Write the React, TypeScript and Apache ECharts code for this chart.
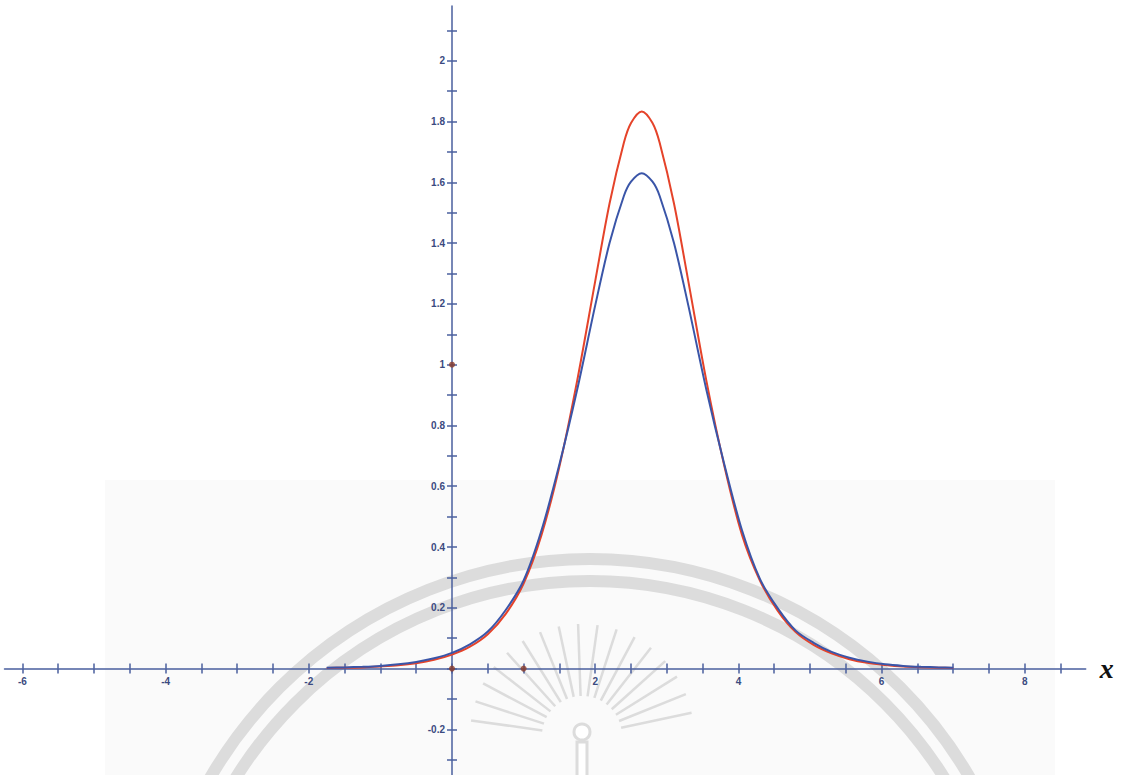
import React, { useEffect, useRef } from "react";
import * as echarts from "echarts";

// sampled x positions of the curves
const xs = [-1.75, -1.5, -1.25, -1, -0.75, -0.5, -0.25, 0, 0.25, 0.5, 0.75, 1, 1.25, 1.5, 1.75, 2, 2.2, 2.4, 2.5, 2.65, 2.8, 2.9, 3.1, 3.3, 3.55, 3.8, 4.05, 4.3, 4.55, 4.8, 5.05, 5.3, 5.55, 5.8, 6.05, 6.3, 6.55, 6.8, 7.0];
// red curve values
const redY = [0.002, 0.003, 0.004, 0.007, 0.011, 0.018, 0.029, 0.046, 0.072, 0.113, 0.18, 0.28, 0.44, 0.665, 0.95, 1.275, 1.53, 1.73, 1.795, 1.833, 1.795, 1.73, 1.53, 1.275, 0.95, 0.67, 0.44, 0.29, 0.19, 0.12, 0.078, 0.05, 0.031, 0.019, 0.012, 0.007, 0.0045, 0.003, 0.002];
// blue curve values
const blueY = [0.0025, 0.004, 0.006, 0.009, 0.014, 0.022, 0.034, 0.052, 0.08, 0.122, 0.193, 0.29, 0.455, 0.672, 0.92, 1.195, 1.4, 1.555, 1.602, 1.63, 1.602, 1.555, 1.4, 1.195, 0.92, 0.675, 0.455, 0.295, 0.198, 0.125, 0.085, 0.055, 0.036, 0.023, 0.014, 0.009, 0.006, 0.004, 0.0025];
// marked points on axes
const markedPoints = [[0, 0], [1, 0], [0, 1]];

// tick positions and labels
const xTicks = [-6, -5.5, -5, -4.5, -4, -3.5, -3, -2.5, -2, -1.5, -1, -0.5, 0, 0.5, 1, 1.5, 2, 2.5, 3, 3.5, 4, 4.5, 5, 5.5, 6, 6.5, 7, 7.5, 8, 8.5];
const xLabels = [-6, -4, -2, 2, 4, 6, 8];
const yTicks = [-0.3, -0.2, -0.1, 0, 0.1, 0.2, 0.3, 0.4, 0.5, 0.6, 0.7, 0.8, 0.9, 1, 1.1, 1.2, 1.3, 1.4, 1.5, 1.6, 1.7, 1.8, 1.9, 2, 2.1];
const yLabels = [-0.2, 0.2, 0.4, 0.6, 0.8, 1, 1.2, 1.4, 1.6, 1.8, 2];

const X_MIN = -6.25;
const X_MAX = 8.85;
const Y_MIN = -0.35;
const Y_MAX = 2.18;

const AXIS_COLOR = "#4a5f9e";
const LABEL_COLOR = "#3b4a80";
const WM = "#dcdcdc";

const W = 1124;
const H = 775;
const GRID = { left: 4.5, right: 38.3, top: 6, bottom: 0 };

export default function App() {
  const ref = useRef<HTMLDivElement>(null);
  useEffect(() => {
    if (!ref.current) return;
    const chart = echarts.init(ref.current, null, { renderer: "svg" });
    const gw = W - GRID.left - GRID.right;
    const gh = H - GRID.top - GRID.bottom;
    // offsets that put the axes through the origin
    const yOffset = -((0 - X_MIN) / (X_MAX - X_MIN)) * gw;
    const xOffset = -((0 - Y_MIN) / (Y_MAX - Y_MIN)) * gh;

    const mkX = (primary: boolean) => ({
      type: "value",
      min: X_MIN,
      max: X_MAX,
      position: "bottom",
      offset: xOffset,
      splitLine: { show: false },
      axisLine: { show: primary, onZero: false, lineStyle: { color: AXIS_COLOR, width: 1.5 } },
      axisTick: {
        show: true,
        inside: !primary,
        length: 5,
        customValues: xTicks,
        lineStyle: { color: AXIS_COLOR, width: 1.5 },
      },
      axisLabel: primary
        ? {
            show: true,
            customValues: xLabels,
            margin: 8,
            color: LABEL_COLOR,
            fontSize: 10,
            fontWeight: "bold",
            fontFamily: "Liberation Sans, Arial, sans-serif",
            formatter: (v: number) => String(v),
          }
        : { show: false },
      name: primary ? "x" : "",
      nameLocation: "end",
      nameGap: 14,
      nameTextStyle: {
        color: "#111",
        fontSize: 28,
        fontStyle: "italic",
        fontWeight: "bold",
        fontFamily: "Liberation Serif, DejaVu Serif, serif",
        verticalAlign: "middle",
      },
    });
    const mkY = (primary: boolean) => ({
      type: "value",
      min: Y_MIN,
      max: Y_MAX,
      position: "left",
      offset: yOffset,
      splitLine: { show: false },
      axisLine: { show: primary, onZero: false, lineStyle: { color: AXIS_COLOR, width: 1.5 } },
      axisTick: {
        show: true,
        inside: !primary,
        length: 5,
        customValues: yTicks,
        lineStyle: { color: AXIS_COLOR, width: 1.5 },
      },
      axisLabel: primary
        ? {
            show: true,
            customValues: yLabels,
            margin: 7,
            color: LABEL_COLOR,
            fontSize: 10,
            fontWeight: "bold",
            fontFamily: "Liberation Sans, Arial, sans-serif",
            formatter: (v: number) => String(Math.round(v * 10) / 10),
          }
        : { show: false },
    });

    // watermark decoration
    const sunCx = 582;
    const sunCy = 736;
    const rays: any[] = [];
    for (let a = -172; a <= -8; a += 10) {
      const t = (a * Math.PI) / 180;
      rays.push({
        type: "line",
        z: -5,
        silent: true,
        shape: {
          x1: sunCx + Math.cos(t) * 40,
          y1: sunCy + Math.sin(t) * 40,
          x2: sunCx + Math.cos(t) * 112,
          y2: sunCy + Math.sin(t) * 112,
        },
        style: { stroke: WM, lineWidth: 2.5 },
      });
    }

    chart.setOption({
      animation: false,
      backgroundColor: "#ffffff",
      grid: { ...GRID, containLabel: false, outerBoundsMode: "none" },
      xAxis: [mkX(true), mkX(false)],
      yAxis: [mkY(true), mkY(false)],
      graphic: [
        {
          type: "rect",
          z: -10,
          silent: true,
          shape: { x: 105, y: 480, width: 950, height: 295 },
          style: { fill: "#fafafa" },
        },
        {
          type: "arc",
          z: -5,
          silent: true,
          shape: { cx: 590, cy: 998, r: 439, startAngle: Math.PI, endAngle: 2 * Math.PI },
          style: { stroke: WM, lineWidth: 12, fill: null },
        },
        {
          type: "arc",
          z: -5,
          silent: true,
          shape: { cx: 590, cy: 998, r: 417, startAngle: Math.PI, endAngle: 2 * Math.PI },
          style: { stroke: WM, lineWidth: 12, fill: null },
        },
        ...rays,
        {
          type: "circle",
          z: -4,
          silent: true,
          shape: { cx: sunCx, cy: sunCy - 4, r: 8 },
          style: { stroke: WM, lineWidth: 3, fill: "#fff" },
        },
        {
          type: "rect",
          z: -4,
          silent: true,
          shape: { x: sunCx - 5, y: sunCy + 6, width: 10, height: 40 },
          style: { stroke: WM, lineWidth: 3, fill: "#fff" },
        },
      ],
      series: [
        {
          type: "line",
          data: xs.map((x, i) => [x, redY[i]]),
          smooth: 0.3,
          showSymbol: false,
          lineStyle: { color: "#e5432a", width: 2 },
          z: 3,
        },
        {
          type: "line",
          data: xs.map((x, i) => [x, blueY[i]]),
          smooth: 0.3,
          showSymbol: false,
          lineStyle: { color: "#3a55a8", width: 2 },
          z: 4,
        },
        {
          type: "scatter",
          data: markedPoints,
          symbolSize: 6,
          itemStyle: { color: "#8a3b2b" },
          z: 5,
        },
      ],
    });
    return () => chart.dispose();
  }, []);
  return (
    <div
      ref={ref}
      style={{ position: "fixed", left: 0, top: 0, width: W, height: H, background: "#fff" }}
    />
  );
}
